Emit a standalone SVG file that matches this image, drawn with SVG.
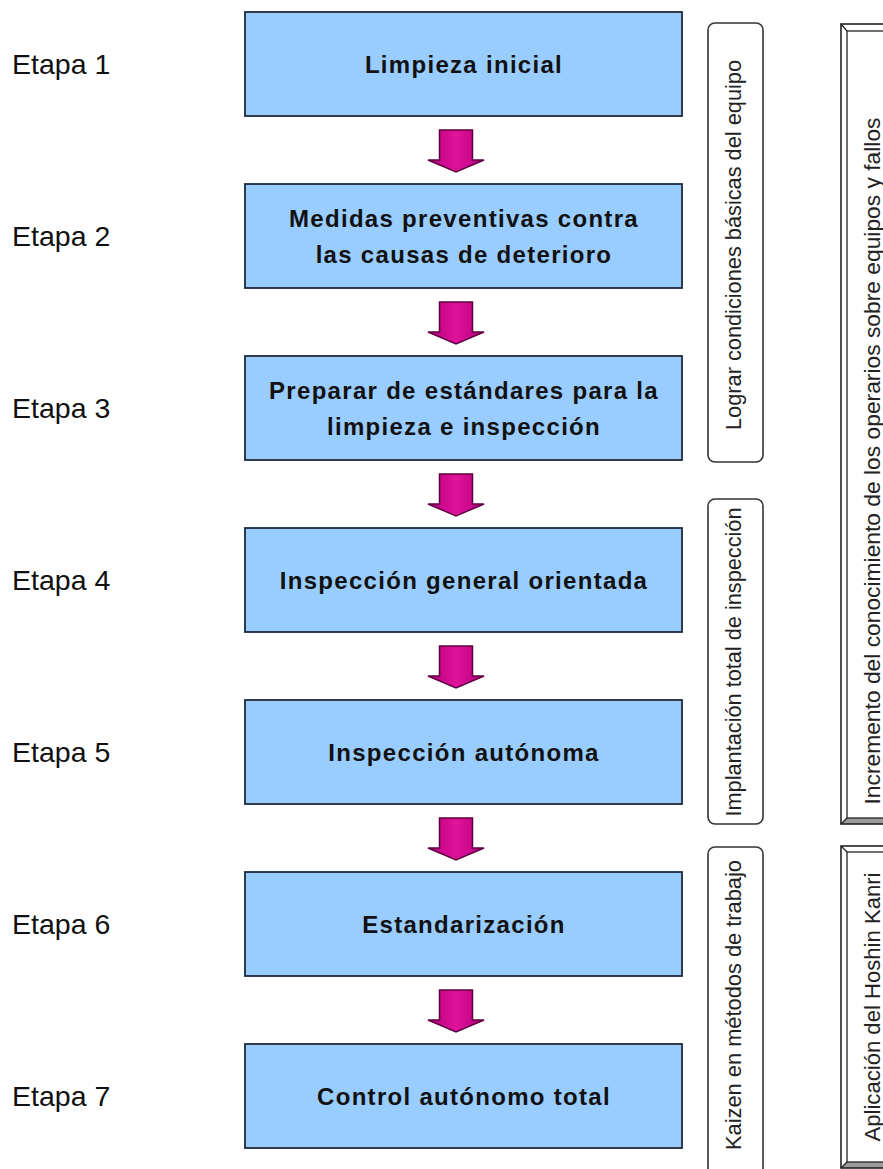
<svg xmlns="http://www.w3.org/2000/svg" xmlns:xlink="http://www.w3.org/1999/xlink" width="883" height="1169" viewBox="0 0 883 1169">
<style>
.bg{fill:#ffffff}
.stage{fill:#99CCFF;stroke:#1c2a3e;stroke-width:1.8}
.st{font-family:"Liberation Sans",Arial,sans-serif;font-weight:bold;font-size:24px;letter-spacing:1.3px;fill:#111;text-anchor:middle}
.et{font-family:"Liberation Sans",Arial,sans-serif;font-size:28.5px;fill:#111}
.pill{fill:#fff;stroke:#333;stroke-width:1.6}
.vt{font-family:"Liberation Sans",Arial,sans-serif;font-size:22px;fill:#222;text-anchor:middle}
.fo{fill:none;stroke:#222;stroke-width:1.6}
.fi{fill:#fff;stroke:#222;stroke-width:1.3}
.sh{fill:#9a9a9a}
.arr{fill:url(#ag);stroke:#5e0040;stroke-width:1.5}
</style>
<defs>
<linearGradient id="ag" x1="0" y1="0" x2="1" y2="0">
<stop offset="0" stop-color="#B8007E"/>
<stop offset="0.5" stop-color="#E0129A"/>
<stop offset="1" stop-color="#B8007E"/>
</linearGradient>
<path id="arr" d="M -16.5 0 H 16.5 V 30 H 28 L 0 42 L -28 30 H -16.5 Z"/>
</defs>
<rect class="bg" x="0" y="0" width="883" height="1169"/>

<g id="connectors">
<use xlink:href="#arr" class="arr" x="456" y="130"/>
<use xlink:href="#arr" class="arr" x="456" y="302"/>
<use xlink:href="#arr" class="arr" x="456" y="474"/>
<use xlink:href="#arr" class="arr" x="456" y="646"/>
<use xlink:href="#arr" class="arr" x="456" y="818"/>
<use xlink:href="#arr" class="arr" x="456" y="990"/>
</g>

<g id="labels">
<text class="et" x="12" y="74">Etapa 1</text>
<text class="et" x="12" y="246">Etapa 2</text>
<text class="et" x="12" y="418">Etapa 3</text>
<text class="et" x="12" y="590">Etapa 4</text>
<text class="et" x="12" y="762">Etapa 5</text>
<text class="et" x="12" y="934">Etapa 6</text>
<text class="et" x="12" y="1106">Etapa 7</text>
</g>

<g id="stage1"><rect class="stage" x="245" y="12" width="437" height="104"/><text class="st" x="464" y="72.5">Limpieza inicial</text></g>
<g id="stage2"><rect class="stage" x="245" y="184" width="437" height="104"/><text class="st" x="464" y="226.5">Medidas preventivas contra</text><text class="st" x="464" y="262.5">las causas de deterioro</text></g>
<g id="stage3"><rect class="stage" x="245" y="356" width="437" height="104"/><text class="st" x="464" y="398.5">Preparar de estándares para la</text><text class="st" x="464" y="434.5">limpieza e inspección</text></g>
<g id="stage4"><rect class="stage" x="245" y="528" width="437" height="104"/><text class="st" x="464" y="588.5">Inspección general orientada</text></g>
<g id="stage5"><rect class="stage" x="245" y="700" width="437" height="104"/><text class="st" x="464" y="760.5">Inspección autónoma</text></g>
<g id="stage6"><rect class="stage" x="245" y="872" width="437" height="104"/><text class="st" x="464" y="932.5">Estandarización</text></g>
<g id="stage7"><rect class="stage" x="245" y="1044" width="437" height="104"/><text class="st" x="464" y="1104.5">Control autónomo total</text></g>

<g id="groupA"><rect class="pill" x="708" y="23" width="55" height="439" rx="7"/><text class="vt" transform="translate(741,245) rotate(-90)" textLength="370" lengthAdjust="spacingAndGlyphs">Lograr condiciones básicas del equipo</text></g>
<g id="groupB"><rect class="pill" x="708" y="499" width="55" height="325" rx="7"/><text class="vt" transform="translate(741,662) rotate(-90)" textLength="309" lengthAdjust="spacingAndGlyphs">Implantación total de inspección</text></g>
<g id="groupC"><rect class="pill" x="708" y="847" width="55" height="335" rx="7"/><text class="vt" transform="translate(741,1005) rotate(-90)" textLength="290" lengthAdjust="spacingAndGlyphs">Kaizen en métodos de trabajo</text></g>

<g id="groupD">
<polygon class="sh" points="841,824 847,818 890,818 890,824"/>
<rect class="fo" x="841" y="24" width="60" height="800"/>
<rect class="fi" x="847" y="31" width="60" height="787"/>
<line x1="841" y1="24" x2="847" y2="31" stroke="#222" stroke-width="1.2"/>
<line x1="841" y1="824" x2="847" y2="818" stroke="#222" stroke-width="1.2"/>
<text class="vt" transform="translate(880,461) rotate(-90)" textLength="687" lengthAdjust="spacingAndGlyphs">Incremento del conocimiento de los operarios sobre equipos y fallos</text>
</g>
<g id="groupE">
<polygon class="sh" points="841,1168 847,1162 890,1162 890,1168"/>
<rect class="fo" x="841" y="846" width="60" height="322"/>
<rect class="fi" x="847" y="852" width="60" height="310"/>
<line x1="841" y1="846" x2="847" y2="852" stroke="#222" stroke-width="1.2"/>
<line x1="841" y1="1168" x2="847" y2="1162" stroke="#222" stroke-width="1.2"/>
<text class="vt" transform="translate(880,1007) rotate(-90)" textLength="269" lengthAdjust="spacingAndGlyphs">Aplicación del Hoshin Kanri</text>
</g>
</svg>
